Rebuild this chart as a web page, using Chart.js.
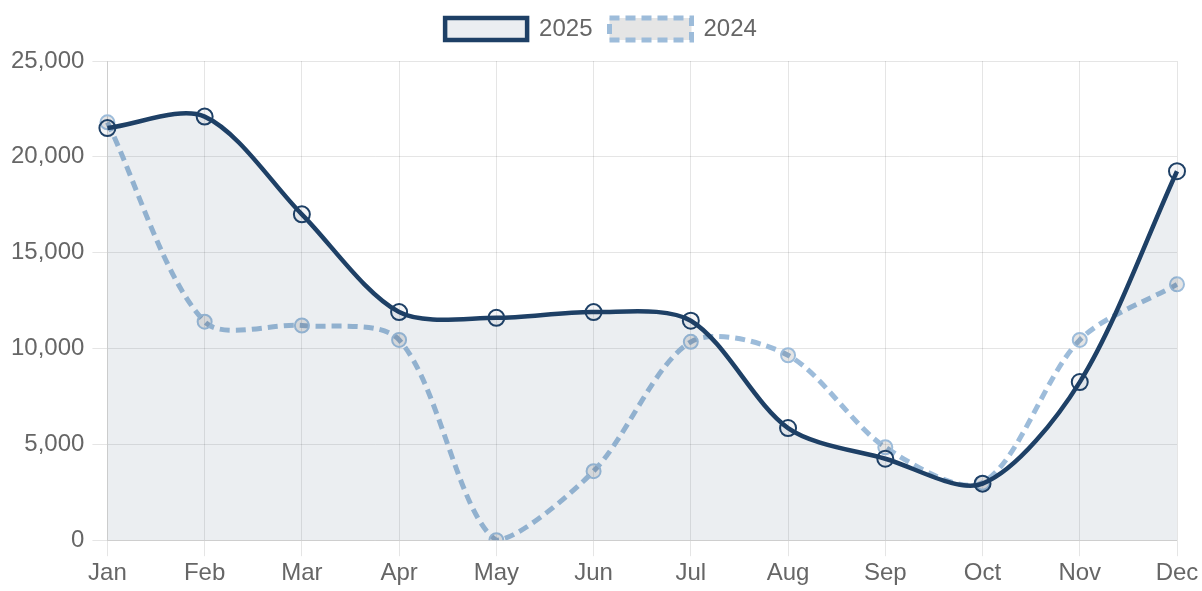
<!DOCTYPE html>
<html lang="en">
<head>
  <meta charset="UTF-8">
  <title>2025 vs 2024</title>
  <script src="https://cdn.jsdelivr.net/npm/chart.js"></script>
  <style>
    body, html {
      margin: 0;
      padding: 0;
      background: #fff;
      font-family: 'Liberation Sans', Arial, sans-serif;
    }
    .chart-box {
      width: 1202px;
      height: 591px;
    }
  </style>
</head>
<body>
  <div class="chart-box">
    <canvas id="salesChart"></canvas>
  </div>

  <script>
    const months = ['Jan', 'Feb', 'Mar', 'Apr', 'May', 'Jun', 'Jul', 'Aug', 'Sep', 'Oct', 'Nov', 'Dec'];
    const values2025 = [21500, 22100, 17000, 11900, 11600, 11900, 11450, 5850, 4250, 2950, 8250, 19250];
    const values2024 = [21800, 11400, 11200, 10450, 0, 3600, 10350, 9650, 4850, 3000, 10450, 13350];

    Chart.defaults.font.family = "'Liberation Sans', Arial, sans-serif";
    Chart.defaults.font.size = 24;
    Chart.defaults.color = '#666';

    // a bit more room between the legend and the plot
    const legendGap = {
      id: 'legendGap',
      beforeInit(chart) {
        const fitLegend = chart.legend.fit;
        chart.legend.fit = function () {
          fitLegend.bind(chart.legend)();
          this.height += 10;
        };
      }
    };

    const ctx = document.getElementById('salesChart').getContext('2d');
    new Chart(ctx, {
      type: 'line',
      data: {
        labels: months,
        datasets: [
          {
            label: '2025',
            data: values2025,
            borderColor: '#1e4066',
            backgroundColor: 'rgba(30, 64, 102, 0.09)',
            borderWidth: 4.5,
            fill: true,
            tension: 0.3,
            pointRadius: 8,
            pointBorderWidth: 2,
            pointBackgroundColor: 'rgba(30, 64, 102, 0.05)'
          },
          {
            label: '2024',
            data: values2024,
            borderColor: '#9dbcda',
            backgroundColor: 'rgba(0, 0, 0, 0.1)',
            borderWidth: 5,
            borderDash: [10, 6],
            fill: false,
            tension: 0.3,
            pointRadius: 7,
            pointBorderWidth: 2
          }
        ]
      },
      options: {
        responsive: true,
        maintainAspectRatio: false,
        animation: false,
        layout: {
          padding: { left: 3, right: 3, top: 0, bottom: 0 }
        },
        scales: {
          x: {
            grid: { color: 'rgba(0, 0, 0, 0.1)', tickLength: 16 },
            ticks: { padding: 3 },
            afterFit(scale) {
              scale.paddingRight = 25;
            }
          },
          y: {
            min: 0,
            max: 25000,
            grid: { color: 'rgba(0, 0, 0, 0.1)', tickLength: 15 },
            ticks: {
              stepSize: 5000,
              padding: 8,
              callback: v => v.toLocaleString('en-US')
            }
          }
        },
        plugins: {
          legend: {
            labels: {
              boxWidth: 82,
              boxHeight: 22,
              padding: 17
            }
          }
        }
      },
      plugins: [legendGap]
    });
  </script>
</body>
</html>
